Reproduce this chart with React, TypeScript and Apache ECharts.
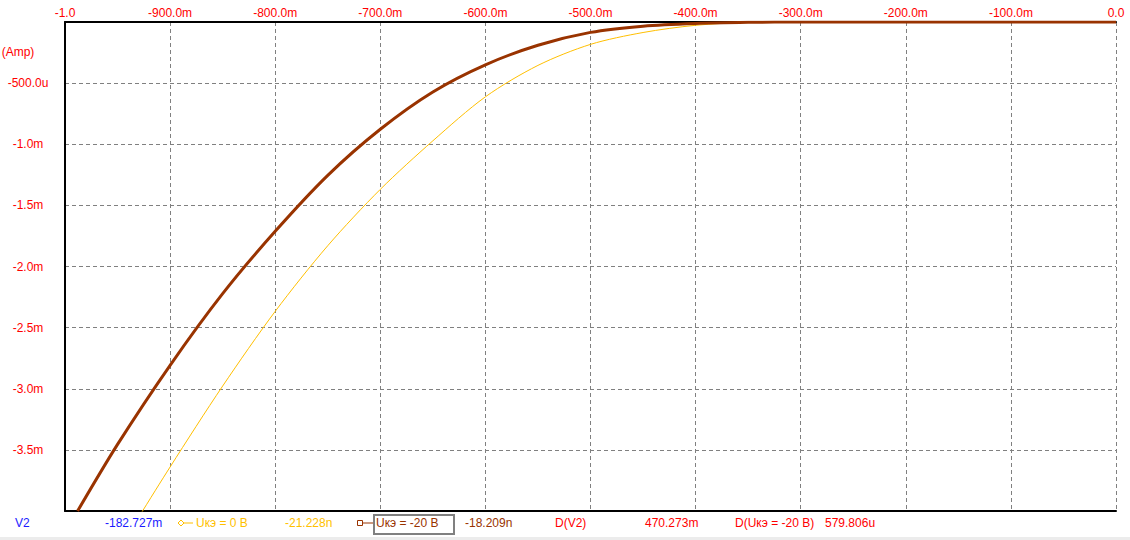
import React, { useEffect, useRef } from "react";
import * as echarts from "echarts";

// V2 sweep (V) and current (mA) for Uкэ = -20 B
const brownV = [-0.988, -0.95, -0.9, -0.85, -0.8, -0.75, -0.7, -0.65, -0.6, -0.55, -0.5, -0.45, -0.4, -0.35, -0.3, -0.2, -0.1, 0];
const brownI = [-4.0, -3.455, -2.808, -2.222, -1.712, -1.254, -0.877, -0.572, -0.35, -0.19, -0.085, -0.034, -0.012, -0.003, 0, 0, 0, 0];
// V2 sweep (V) and current (mA) for Uкэ = 0 B
const yellowV = [-0.95, -0.9, -0.85, -0.8, -0.75, -0.7, -0.65, -0.6, -0.55, -0.5, -0.45, -0.4, -0.35, -0.3, -0.2, -0.1, 0];
const yellowI = [-4.33, -3.64, -2.978, -2.367, -1.83, -1.369, -0.972, -0.612, -0.355, -0.183, -0.086, -0.027, -0.003, 0, 0, 0, 0];

const seriesNames = ["Uкэ = 0 B", "Uкэ = -20 B"];
const legendTexts = ["V2", "-182.727m", "-21.228n", "-18.209n", "D(V2)", "470.273m", "D(Uкэ = -20 B)", "579.806u"];

const FONT = "Liberation Sans, Arial, sans-serif";
const RED = "#ff0000";
const BROWN = "#993300";
const YELLOW = "#ffbf00";
const BLUE = "#1a1aff";

export default function App() {
  const ref = useRef<HTMLDivElement>(null);
  useEffect(() => {
    document.body.style.margin = "0";
    const chart = echarts.init(ref.current!, null, { renderer: "svg" });
    const fmtX = (v: number) => {
      if (Math.abs(v + 1) < 1e-9) return "-1.0";
      if (Math.abs(v) < 1e-9) return "0.0";
      return (v * 1000).toFixed(1) + "m";
    };
    const fmtY = (v: number) => {
      if (Math.abs(v) < 1e-9 || Math.abs(v + 0.004) < 1e-9) return "";
      if (Math.abs(v) < 1e-3 - 1e-9) return (v * 1e6).toFixed(1) + "u";
      return (v * 1e3).toFixed(1) + "m";
    };
    const txt = (text: string, x: number, color: string, align = "left") => ({
      type: "text",
      x,
      y: 523,
      style: { text, fill: color, font: `12px ${FONT}`, textAlign: align, textVerticalAlign: "middle" },
    });
    chart.setOption({
      animation: false,
      backgroundColor: "#ffffff",
      grid: { left: 65, top: 22, width: 1051, height: 489 },
      xAxis: [
        {
          type: "value",
          position: "top",
          min: -1,
          max: 0,
          interval: 0.1,
          axisLine: { show: true, onZero: false, lineStyle: { color: "#000", width: 2 } },
          axisTick: { show: false },
          axisLabel: { color: RED, fontSize: 12, fontFamily: FONT, margin: 3, formatter: fmtX, showMinLabel: true, showMaxLabel: true },
          splitLine: { show: true, lineStyle: { color: "#808080", type: [4, 3], width: 1 } },
        },
        {
          type: "value",
          position: "bottom",
          min: -1,
          max: 0,
          interval: 0.1,
          axisLine: { show: true, onZero: false, lineStyle: { color: "#000", width: 2 } },
          axisTick: { show: false },
          axisLabel: { show: false },
          splitLine: { show: false },
        },
      ],
      yAxis: {
        type: "value",
        min: -0.004,
        max: 0,
        interval: 0.0005,
        axisLine: { show: true, onZero: false, lineStyle: { color: "#000", width: 2 } },
        axisTick: { show: false },
        axisLabel: { color: RED, fontSize: 12, fontFamily: FONT, align: "center", margin: 37, formatter: fmtY },
        splitLine: { show: true, lineStyle: { color: "#808080", type: [4, 3], width: 1 } },
      },
      series: [
        {
          name: seriesNames[0],
          type: "line",
          showSymbol: false,
          smooth: 0.3,
          lineStyle: { color: YELLOW, width: 1 },
          itemStyle: { color: YELLOW },
          data: yellowV.map((v, i) => [v, yellowI[i] * 1e-3]),
          clip: true,
        },
        {
          name: seriesNames[1],
          type: "line",
          showSymbol: false,
          smooth: 0.3,
          lineStyle: { color: BROWN, width: 3 },
          itemStyle: { color: BROWN },
          data: brownV.map((v, i) => [v, brownI[i] * 1e-3]),
          clip: true,
        },
      ],
      graphic: [
        { type: "text", x: 18, y: 52, style: { text: "(Amp)", fill: RED, font: `12px ${FONT}`, textAlign: "center", textVerticalAlign: "middle" } },
        txt(legendTexts[0], 15, BLUE),
        txt(legendTexts[1], 105, BLUE),
        { type: "line", shape: { x1: 181, y1: 523, x2: 193, y2: 523 }, style: { stroke: YELLOW, lineWidth: 1 } },
        { type: "polygon", shape: { points: [[178, 523], [181, 520], [184, 523], [181, 526]] }, style: { fill: "#fff", stroke: YELLOW, lineWidth: 1 } },
        txt(seriesNames[0], 196, YELLOW),
        txt(legendTexts[2], 285, YELLOW),
        { type: "line", shape: { x1: 361, y1: 523, x2: 374, y2: 523 }, style: { stroke: BROWN, lineWidth: 1 } },
        { type: "rect", shape: { x: 357.5, y: 520.5, width: 5, height: 5 }, style: { fill: "#fff", stroke: BROWN, lineWidth: 1 } },
        { type: "rect", shape: { x: 374, y: 515, width: 80, height: 19 }, style: { fill: "none", stroke: "#808080", lineWidth: 2 } },
        txt(seriesNames[1], 376, BROWN),
        txt(legendTexts[3], 465, BROWN),
        txt(legendTexts[4], 555, RED),
        txt(legendTexts[5], 645, RED),
        txt(legendTexts[6], 735, RED),
        txt(legendTexts[7], 825, RED),
        { type: "rect", shape: { x: 0, y: 537, width: 1130, height: 3 }, style: { fill: "#ececec" } },
      ],
    });
    return () => chart.dispose();
  }, []);
  return <div ref={ref} style={{ width: 1130, height: 540 }} />;
}
